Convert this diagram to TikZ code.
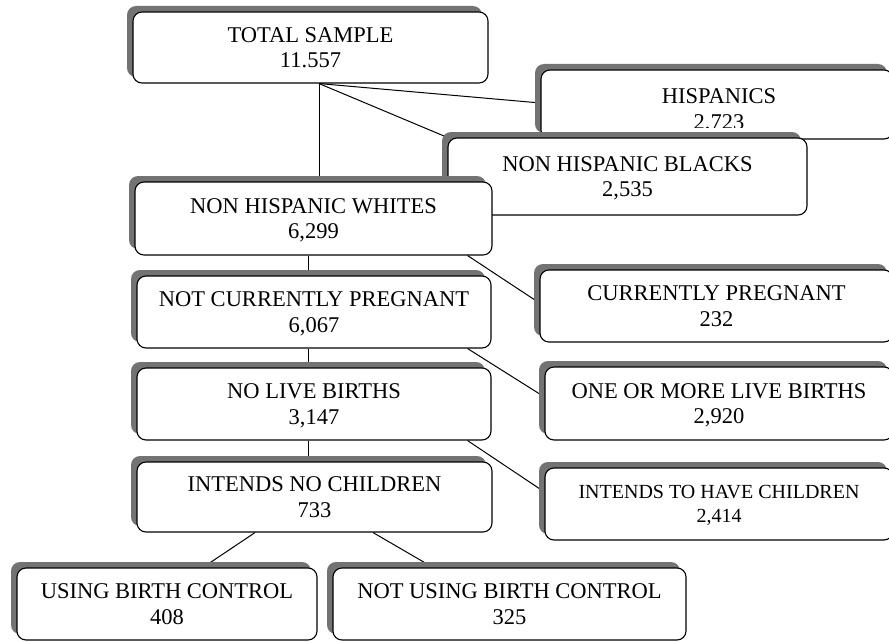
\documentclass[tikz,border=0pt]{standalone}
\usepackage{fontspec}
\setmainfont{Liberation Serif}
\usetikzlibrary{shadows,calc}
\pgfdeclarelayer{bg}
\pgfsetlayers{bg,main}
\tikzset{
  box/.style={draw=black, line width=1.1pt, fill=white, rounded corners=9pt,
    inner sep=0pt, align=center, font=\fontsize{22.5pt}{25.5pt}\selectfont,
    text depth=-6pt,
    copy shadow={shadow xshift=-6pt, shadow yshift=6pt, fill=black!55, draw=none}},
  txt/.style={inner sep=0pt, align=center, font=\fontsize{22.5pt}{25.5pt}\selectfont},
  conn/.style={draw=black, line width=1pt},
}
\begin{document}
\begin{tikzpicture}[x=1pt,y=-1pt]
\clip (0,0) rectangle (889,642);

\node[box, minimum width=355pt, minimum height=71pt] (total) at (310.5,47.5) {TOTAL SAMPLE\\11.557};
\node[box, minimum width=352pt, minimum height=69pt] (hisp) at (717,104.5) {};
\begin{scope}
  \clip (530,60) rectangle (889,127);
  \node[txt] (hisptext) at (719,111) {HISPANICS\\2,723};
\end{scope}
\node[box, minimum width=359pt, minimum height=77pt] (blacks) at (627.5,176.5) {NON HISPANIC BLACKS\\2,535};
\node[box, minimum width=357pt, minimum height=73pt] (whites) at (313.5,218.5) {NON HISPANIC WHITES\\6,299};
\node[box, minimum width=354pt, minimum height=72pt] (notpreg) at (314,312) {NOT CURRENTLY PREGNANT\\6,067};
\node[box, minimum width=353pt, minimum height=72pt] (preg) at (716.5,306) {CURRENTLY PREGNANT\\232};
\node[box, minimum width=354pt, minimum height=72pt] (nolive) at (314,404) {NO LIVE BIRTHS\\3,147};
\node[box, minimum width=348pt, minimum height=73pt] (onemore) at (719,403.5) {ONE OR MORE LIVE BIRTHS\\2,920};
\node[box, minimum width=355pt, minimum height=70pt] (intendno) at (314.5,497) {INTENDS NO CHILDREN\\733};
\node[box, minimum width=348pt, minimum height=72pt, font=\fontsize{20pt}{24pt}\selectfont] (intendhave) at (719,504) {INTENDS TO HAVE CHILDREN\\2,414};
\node[box, minimum width=300pt, minimum height=72pt] (using) at (167,604) {USING BIRTH CONTROL\\408};
\node[box, minimum width=353pt, minimum height=72pt] (notusing) at (509.5,604) {NOT USING BIRTH CONTROL\\325};

\begin{pgfonlayer}{bg}
  \fill[white] (0,0) rectangle (889,642);
  \coordinate (t0) at ([xshift=8.5pt]total.south);
  \draw[conn] (t0) -- (t0 |- whites.north);
  \draw[conn] (t0) -- ([yshift=1.5pt]hisp.west);
  \draw[conn] (t0) -- (blacks.north west);
  \coordinate (w0) at ([xshift=-5.5pt]whites.south);
  \draw[conn] (w0) -- (w0 |- notpreg.north);
  \draw[conn] ([xshift=-25pt]whites.south east) -- ([yshift=3pt]preg.west);
  \coordinate (n0) at ([xshift=-6pt]notpreg.south);
  \draw[conn] (n0) -- (n0 |- nolive.north);
  \draw[conn] ([xshift=-24pt]notpreg.south east) -- ([yshift=6.5pt]onemore.west);
  \coordinate (l0) at ([xshift=-6pt]nolive.south);
  \draw[conn] (l0) -- (l0 |- intendno.north);
  \draw[conn] ([xshift=-24pt]nolive.south east) -- ([yshift=12pt]intendhave.west);
  \draw[conn] ([xshift=-59.5pt]intendno.south) -- ([xshift=36pt]using.north);
  \draw[conn] ([xshift=58.5pt]intendno.south) -- ([xshift=-76.5pt]notusing.north);
\end{pgfonlayer}
\end{tikzpicture}
\end{document}
